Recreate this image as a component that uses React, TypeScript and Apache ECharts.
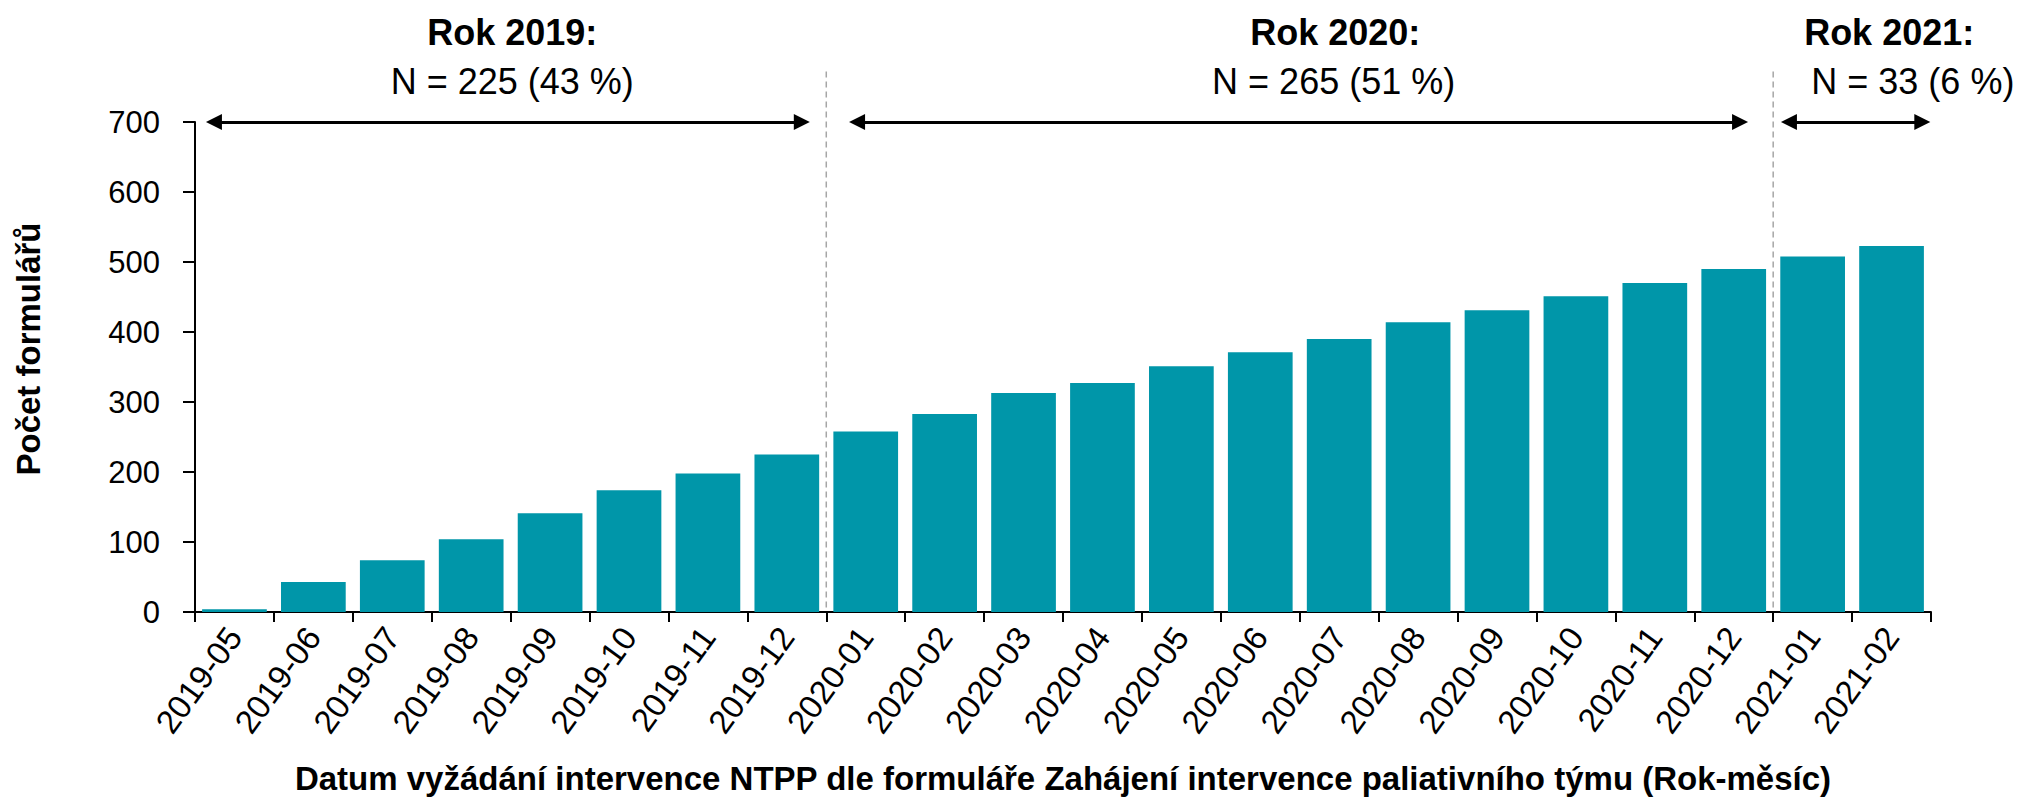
import React, { useEffect, useRef } from "react";
import * as echarts from "echarts";

const categories = [
  "2019-05", "2019-06", "2019-07", "2019-08", "2019-09", "2019-10", "2019-11", "2019-12",
  "2020-01", "2020-02", "2020-03", "2020-04", "2020-05", "2020-06", "2020-07", "2020-08",
  "2020-09", "2020-10", "2020-11", "2020-12", "2021-01", "2021-02",
];
const counts = [4, 43, 74, 104, 141, 174, 198, 225, 258, 283, 313, 327, 351, 371, 390, 414, 431, 451, 470, 490, 508, 523];

const yMin = 0;
const yMax = 700;
const yInterval = 100;

const yearHeaders = ["Rok 2019:", "Rok 2020:", "Rok 2021:"];
const yearCounts = ["N = 225 (43 %)", "N = 265 (51 %)", "N = 33 (6 %)"];
// spans of the year arrows, in category-index units (integer = category centre)
const yearSpans = [
  [-0.26, 7.19],
  [7.89, 19.08],
  [19.7, 21.39],
];
const yearBoundaries = [7.5, 19.5];
// header positions (category-index units)
const headerCentersBold = [3.52, 13.95, 20.97];
const headerCentersN = [3.52, 13.93, 21.27];

const xTitle =
  "Datum vyžádání intervence NTPP dle formuláře Zahájení intervence paliativního týmu (Rok-měsíc)";
const yTitle = "Počet formulářů";

const FONT = "'Liberation Sans', Arial, sans-serif";
const BAR_COLOR = "#0096A9";

export default function App() {
  const ref = useRef<HTMLDivElement>(null);

  useEffect(() => {
    document.body.style.margin = "0";
    if (!ref.current) return;
    const chart = echarts.init(ref.current, null, { renderer: "svg" });

    const option: any = {
      animation: false,
      backgroundColor: "#ffffff",
      textStyle: { fontFamily: FONT, color: "#000" },
      grid: { left: 195, right: 92, top: 122, bottom: 186, containLabel: false },
      xAxis: [
        {
          type: "category",
          data: categories,
          name: xTitle,
          nameLocation: "middle",
          nameGap: 150,
          nameTextStyle: { fontFamily: FONT, fontSize: 33, fontWeight: "bold", color: "#000" },
          axisLine: { onZero: false, lineStyle: { color: "#000", width: 2 } },
          axisTick: { show: true, length: 10, lineStyle: { color: "#000", width: 2 }, alignWithLabel: false },
          axisLabel: {
            interval: 0,
            rotate: 54,
            margin: 19,
            fontSize: 33,
            fontFamily: FONT,
            color: "#000",
          },
          splitLine: { show: false },
        },
        {
          type: "value",
          min: -0.5,
          max: categories.length - 0.5,
          show: false,
          position: "bottom",
        },
      ],
      yAxis: {
        type: "value",
        min: yMin,
        max: yMax,
        interval: yInterval,
        axisLine: { show: true, onZero: false, lineStyle: { color: "#000", width: 2 } },
        axisTick: { show: true, length: 12, lineStyle: { color: "#000", width: 2 } },
        axisLabel: { fontSize: 31, fontFamily: FONT, color: "#000", margin: 35 },
        splitLine: { show: false },
      },
      series: [
        {
          type: "bar",
          data: counts,
          barCategoryGap: "18%",
          itemStyle: { color: BAR_COLOR },
          xAxisIndex: 0,
          yAxisIndex: 0,
        },
        {
          type: "line",
          xAxisIndex: 1,
          yAxisIndex: 0,
          data: [],
          silent: true,
          clip: false,
          markLine: {
            silent: true,
            symbol: ["triangle", "triangle"],
            symbolSize: [16, 16],
            label: { show: false },
            lineStyle: { color: "#000", width: 3, type: "solid" },
            data: yearSpans.map((s) => [
              { coord: [s[0], yMax] },
              { coord: [s[1], yMax] },
            ]),
          },
        },
      ],
    };
    chart.setOption(option);

    const px = (v: number) => chart.convertToPixel({ xAxisIndex: 1 }, v) as number;
    const py = (v: number) => chart.convertToPixel({ yAxisIndex: 0 }, v) as number;
    const graphics: any[] = [];
    yearBoundaries.forEach((b) => {
      const x = px(b);
      graphics.push({
        type: "line",
        shape: { x1: x, y1: py(772), x2: x, y2: py(0) },
        style: { stroke: "#a6a6a6", lineWidth: 1.5, lineDash: [6, 4] },
        z: 0,
      });
    });
    yearHeaders.forEach((t, i) => {
      graphics.push({
        type: "text",
        x: px(headerCentersBold[i]),
        y: 32,
        style: {
          text: t,
          fontFamily: FONT,
          fontSize: 36,
          fontWeight: "bold",
          fill: "#000",
          align: "center",
          verticalAlign: "middle",
        },
      });
      graphics.push({
        type: "text",
        x: px(headerCentersN[i]),
        y: 81,
        style: {
          text: yearCounts[i],
          fontFamily: FONT,
          fontSize: 36,
          fill: "#000",
          align: "center",
          verticalAlign: "middle",
        },
      });
    });
    // y-axis title
    graphics.push({
      type: "text",
      x: 28,
      y: 349,
      rotation: Math.PI / 2,
      style: {
        text: yTitle,
        fontFamily: FONT,
        fontSize: 33,
        fontWeight: "bold",
        fill: "#000",
        align: "center",
        verticalAlign: "middle",
      },
    });
    chart.setOption({ graphic: graphics });

    return () => chart.dispose();
  }, []);

  return <div ref={ref} style={{ width: 2023, height: 800 }} />;
}
